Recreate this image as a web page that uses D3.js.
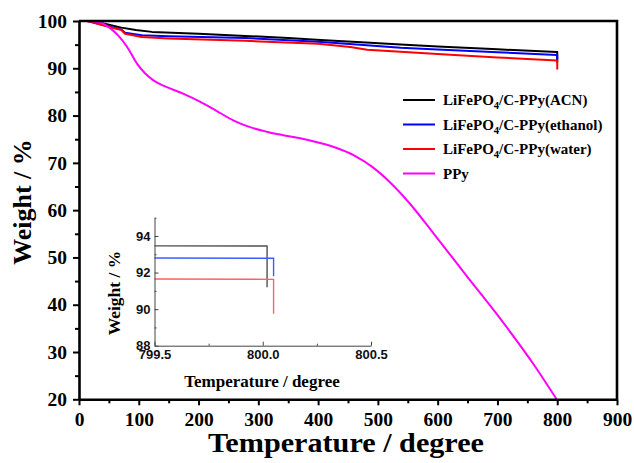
<!DOCTYPE html>
<html>
<head>
<meta charset="utf-8">
<script src="https://cdn.jsdelivr.net/npm/d3@7"></script>
<style>
  body { margin: 0; background: #fff; }
  svg { display: block; }
</style>
</head>
<body>
<svg id="chart" width="634" height="463"></svg>
<script>
// ---- Data: TGA curves, [temperature (degree), weight (%)] ----
const seriesNames = ["ACN", "ethanol", "water", "PPy"];

const acnCurve = [
  [14, 100], [25, 99.95], [43, 99.4], [71, 98.6], [95, 98.1], [122, 97.7],
  [200, 97.3], [278, 96.85], [350, 96.4], [404, 96.0], [480, 95.45],
  [538, 95.05], [600, 94.6], [700, 94.0], [799.5, 93.46],
  [800.02, 93.45], [800.02, 91.2]
];
const ethanolCurve = [
  [14, 100], [43, 99.1], [71, 98.2], [77, 97.5], [105, 97.0], [150, 96.8],
  [278, 96.4], [400, 95.6], [470, 95.0], [538, 94.35], [600, 93.95],
  [700, 93.4], [799.5, 92.8], [800.05, 92.78], [800.05, 91.8]
];
const waterCurve = [
  [14, 100], [43, 99.0], [71, 98.1], [77, 97.3], [105, 96.6], [150, 96.3],
  [278, 95.8], [400, 95.2], [454, 94.5], [482, 93.9], [538, 93.5],
  [600, 93.0], [700, 92.3], [799.5, 91.65], [800.05, 91.63], [800.05, 89.75]
];
const ppyCurve = [
  [14, 100], [35, 99.7], [52, 98.5], [65, 97.0], [80, 94.6], [97, 91.0],
  [110, 89.0], [124, 87.5], [147, 86.0], [175, 84.6], [203, 82.9],
  [230, 81.0], [258, 79.0], [285, 77.6], [314, 76.6], [340, 75.9],
  [370, 75.2], [400, 74.3], [430, 73.2], [460, 71.6], [490, 69.2],
  [521, 65.8], [554, 61.3], [593, 55.1], [649, 46.0], [705, 37.0],
  [761, 27.3], [799, 20]
];

const xTicks = [0, 100, 200, 300, 400, 500, 600, 700, 800, 900];
const xMinorTicks = [50, 150, 250, 350, 450, 550, 650, 750, 850];
const yTicks = [20, 30, 40, 50, 60, 70, 80, 90, 100];
const yMinorTicks = [25, 35, 45, 55, 65, 75, 85, 95];

const insetXTicks = [799.5, 800.0, 800.5];
const insetXMinorTicks = [799.75, 800.25];
const insetYTicks = [88, 90, 92, 94];
const insetYMinorTicks = [89, 91, 93, 95];

// ---- Styling ----
const serif = "'Liberation Serif', 'Times New Roman', serif";
const sans = "'Liberation Sans', Arial, sans-serif";
const mainColors = ["#000000", "#0000ff", "#ff0000", "#ff00ff"];
const insetColors = ["#505050", "#3c5cff", "#ff6060"];

const svg = d3.select("#chart");

// ---- Main plot ----
const box = { left: 79, right: 617, top: 21, bottom: 399.3 };
const x = d3.scaleLinear().domain([0, 900]).range([box.left, box.right]);
const y = d3.scaleLinear().domain([20, 100]).range([box.bottom, box.top]);

svg.append("defs").append("clipPath").attr("id", "mainClip")
  .append("rect")
  .attr("x", box.left).attr("y", box.top)
  .attr("width", box.right - box.left).attr("height", box.bottom - box.top);

const curves = [acnCurve, ethanolCurve, waterCurve, ppyCurve];
const linearLine = d3.line().x(d => x(d[0])).y(d => y(d[1]));
const smoothLine = d3.line().x(d => x(d[0])).y(d => y(d[1])).curve(d3.curveMonotoneX);

const plot = svg.append("g").attr("clip-path", "url(#mainClip)");
curves.forEach((c, i) => {
  plot.append("path")
    .datum(c)
    .attr("d", i === 3 ? smoothLine : linearLine)
    .attr("fill", "none")
    .attr("stroke", mainColors[i])
    .attr("stroke-width", 2)
    .attr("stroke-linejoin", "round");
});

// Axes
function styleMainAxis(g) {
  g.attr("font-family", serif).attr("font-weight", "bold").attr("font-size", "19.5px");
  g.select(".domain").attr("stroke", "#000").attr("stroke-width", 2.6);
  g.selectAll(".tick line").attr("stroke", "#000").attr("stroke-width", 2);
  g.selectAll("text").attr("fill", "#000");
}
function minorTicks(g) {
  g.select(".domain").remove();
  g.selectAll(".tick line").attr("stroke", "#000").attr("stroke-width", 2);
}

svg.append("g")
  .attr("transform", `translate(0,${box.bottom})`)
  .call(d3.axisBottom(x).tickValues(xTicks).tickSize(6).tickSizeOuter(0).tickPadding(7))
  .call(styleMainAxis);
svg.append("g")
  .attr("transform", `translate(0,${box.bottom})`)
  .call(d3.axisBottom(x).tickValues(xMinorTicks).tickSize(4).tickSizeOuter(0).tickFormat(""))
  .call(minorTicks);

svg.append("g")
  .attr("transform", `translate(${box.left},0)`)
  .call(d3.axisLeft(y).tickValues(yTicks).tickSize(6).tickSizeOuter(0).tickPadding(6))
  .call(styleMainAxis);
svg.append("g")
  .attr("transform", `translate(${box.left},0)`)
  .call(d3.axisLeft(y).tickValues(yMinorTicks).tickSize(4).tickSizeOuter(0).tickFormat(""))
  .call(minorTicks);

// Top and right frame
svg.append("path")
  .attr("d", `M${box.left},${box.top}H${box.right}V${box.bottom}`)
  .attr("fill", "none").attr("stroke", "#000").attr("stroke-width", 2.6);

// Axis titles
svg.append("text")
  .attr("x", 346).attr("y", 452)
  .attr("text-anchor", "middle")
  .attr("font-family", serif).attr("font-weight", "bold").attr("font-size", "27.5px")
  .attr("textLength", 276).attr("lengthAdjust", "spacingAndGlyphs")
  .text("Temperature / degree");

svg.append("text")
  .attr("transform", "translate(31,202) rotate(-90)")
  .attr("text-anchor", "middle")
  .attr("font-family", serif).attr("font-weight", "bold").attr("font-size", "26px")
  .text("Weight / %");

// Legend
const legendLabels = [
  ["LiFePO", "4", "/C-PPy(ACN)"],
  ["LiFePO", "4", "/C-PPy(ethanol)"],
  ["LiFePO", "4", "/C-PPy(water)"],
  ["PPy", "", ""]
];
const legend = svg.append("g");
legendLabels.forEach((lab, i) => {
  const ly = 100 + i * 24.5;
  legend.append("line")
    .attr("x1", 403).attr("x2", 435).attr("y1", ly).attr("y2", ly)
    .attr("stroke", mainColors[i]).attr("stroke-width", 2);
  const t = legend.append("text")
    .attr("x", 443).attr("y", ly + 5)
    .attr("font-family", serif).attr("font-weight", "bold").attr("font-size", "15px");
  t.append("tspan").text(lab[0]);
  if (lab[1]) {
    t.append("tspan").attr("dy", 4).attr("font-size", "10.5px").text(lab[1]);
    t.append("tspan").attr("dy", -4).text(lab[2]);
  }
});

// ---- Inset: zoom on the end of the run ----
const ibox = { left: 154.5, right: 371, top: 217.7, bottom: 345.7 };
const ix = d3.scaleLinear().domain([799.5, 800.5]).range([ibox.left, ibox.right]);
const iy = d3.scaleLinear().domain([88, 95]).range([ibox.bottom, ibox.top]);

svg.select("defs").append("clipPath").attr("id", "insetClip")
  .append("rect")
  .attr("x", ibox.left).attr("y", ibox.top)
  .attr("width", ibox.right - ibox.left).attr("height", ibox.bottom - ibox.top);

const insetLine = d3.line().x(d => ix(d[0])).y(d => iy(d[1]));
const insetPlot = svg.append("g").attr("clip-path", "url(#insetClip)");
[acnCurve, ethanolCurve, waterCurve].forEach((c, i) => {
  insetPlot.append("path")
    .datum(c)
    .attr("d", insetLine)
    .attr("fill", "none")
    .attr("stroke", insetColors[i])
    .attr("stroke-width", 1.4);
});

const insetAxisColor = "#444";
function styleInset(g) {
  g.attr("font-family", sans).attr("font-weight", "bold").attr("font-size", "13px");
  g.select(".domain").attr("stroke", insetAxisColor).attr("stroke-width", 1);
  g.selectAll(".tick line").attr("stroke", insetAxisColor).attr("stroke-width", 1);
  g.selectAll("text").attr("fill", "#111");
}
function insetMinor(g) {
  g.select(".domain").remove();
  g.selectAll(".tick line").attr("stroke", insetAxisColor);
}

svg.append("g")
  .attr("transform", `translate(0,${ibox.bottom})`)
  .call(d3.axisBottom(ix).tickValues(insetXTicks).tickSize(-4).tickSizeOuter(0)
    .tickPadding(4).tickFormat(d3.format(".1f")))
  .call(styleInset);
svg.append("g")
  .attr("transform", `translate(0,${ibox.bottom})`)
  .call(d3.axisBottom(ix).tickValues(insetXMinorTicks).tickSize(-2).tickSizeOuter(0).tickFormat(""))
  .call(insetMinor);

svg.append("g")
  .attr("transform", `translate(${ibox.left},0)`)
  .call(d3.axisLeft(iy).tickValues(insetYTicks).tickSize(-4).tickSizeOuter(0)
    .tickPadding(4).tickFormat(d3.format("d")))
  .call(styleInset);
svg.append("g")
  .attr("transform", `translate(${ibox.left},0)`)
  .call(d3.axisLeft(iy).tickValues(insetYMinorTicks).tickSize(-2).tickSizeOuter(0).tickFormat(""))
  .call(insetMinor);

svg.append("text")
  .attr("x", 262).attr("y", 386.5)
  .attr("text-anchor", "middle")
  .attr("font-family", serif).attr("font-weight", "bold").attr("font-size", "17px")
  .text("Temperature / degree");

svg.append("text")
  .attr("transform", "translate(120,293) rotate(-90)")
  .attr("text-anchor", "middle")
  .attr("font-family", serif).attr("font-weight", "bold").attr("font-size", "17.5px")
  .text("Weight / %");
</script>
</body>
</html>
